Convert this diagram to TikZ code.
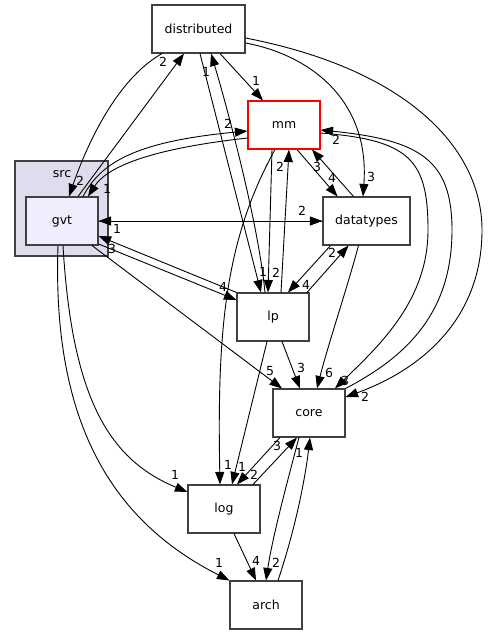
\documentclass[tikz,border=0pt]{standalone}
\usepackage{fontspec}
\setmainfont{DejaVu Sans}
\usepackage{tikz}
\usetikzlibrary{arrows.meta}
\usepackage{xcolor}
\definecolor{boxline}{HTML}{404040}
\definecolor{srcfill}{HTML}{DDDDEE}
\definecolor{gvtfill}{HTML}{EEEEFF}

\begin{document}
\begin{tikzpicture}[x=1pt, y=-1pt,
    font=\fontsize{12.5}{15}\selectfont,
    dirbox/.style={draw=boxline, line width=1.1pt, rectangle, minimum width=72pt, minimum height=48pt, fill=white, inner sep=0pt},
    dep/.style={line width=0.9pt, -{Triangle[length=12.5pt, width=9pt]}},
    lbl/.style={inner sep=0pt}]
      \useasboundingbox (0,0) rectangle (488,635);

      % Cluster src with gvt inside
      \node[draw=boxline, line width=1.1pt, fill=srcfill, minimum width=93pt, minimum height=95pt] (src) at (61.5,208.5) {};
      \node (srcname) at (62,174) {src};
      \node[dirbox, fill=gvtfill] (gvt) at (62,221) {gvt};

      % Directories
      \node[dirbox, minimum width=93pt] (dist) at (198.5,29) {distributed};
      \node[dirbox, draw=red] (mm) at (284,125) {mm};
      \node[dirbox, minimum width=87pt] (dtypes) at (366.5,221) {datatypes};
      \node[dirbox] (lp) at (273,317) {lp};
      \node[dirbox] (core) at (309,413) {core};
      \node[dirbox] (log) at (224,509) {log};
      \node[dirbox] (arch) at (266,605) {arch};

      % distributed <-> gvt
      \draw[dep] ([xshift=-36.5pt]dist.south) .. controls (115,80) and (85,150) .. ([xshift=7pt]gvt.north);
      \draw[dep] ([xshift=16pt]gvt.north) -- ([xshift=-14.5pt]dist.south);
      \node[lbl] (l1) at (80,181) {2};
      \node[lbl] (l2) at (163,62) {2};

      % gvt <-> mm
      \draw[dep] ([xshift=21pt]gvt.north) .. controls (100,165) and (130,142) .. ([yshift=-6pt]mm.west);
      \draw[dep] ([yshift=-13pt]mm.west) .. controls (140,150) and (105,170) .. ([xshift=26pt]gvt.north);
      \node[lbl] (l3) at (228,124) {2};
      \node[lbl] (l4) at (107,189) {1};

      % distributed -> mm, lp, datatypes, core
      \draw[dep] ([xshift=21.5pt]dist.south) -- ([xshift=-21pt]mm.north);
      \node[lbl] (l5) at (256,81) {1};
      \draw[dep] ([xshift=1.5pt]dist.south) -- ([xshift=-12pt]lp.north);
      \node[lbl] (l6) at (263,272) {1};
      \draw[dep] ([xshift=-8pt]lp.north) .. controls (258,220) and (225,100) .. ([xshift=12.5pt]dist.south);
      \node[lbl] (l7) at (206,72) {1};
      \draw[dep] ([yshift=-14pt]dist.east) .. controls (310,55) and (370,100) .. ([xshift=-3.5pt]dtypes.north);
      \node[lbl] (l8) at (371,177) {3};
      \draw[dep] ([yshift=-9pt]dist.east) .. controls (410,70) and (482,150) .. (482,230) .. controls (482,320) and (420,370) .. ([yshift=16pt]core.east);
      \node[lbl] (l9) at (365,397) {2};

      % gvt <-> datatypes, lp
      \draw[dep] (gvt.east) -- (dtypes.west);
      \draw[dep] (dtypes.west) -- (gvt.east);
      \node[lbl] (l10) at (302,211) {2};
      \node[lbl] (l11) at (117,229) {1};
      \draw[dep] (lp.north west) -- ([yshift=-15pt]gvt.east);
      \node[lbl] (l12) at (112,249) {3};
      \draw[dep] ([yshift=-23pt]gvt.east) -- ([yshift=17pt]lp.west);
      \node[lbl] (l13) at (223,287) {4};

      % gvt -> core, log, arch
      \draw[dep] ([xshift=30pt]gvt.south) -- ([xshift=-27pt]core.north);
      \node[lbl] (l14) at (270,371) {5};
      \draw[dep] ([xshift=1pt]gvt.south) .. controls (72,400) and (110,460) .. ([yshift=17pt]log.west);
      \node[lbl] (l15) at (175,475) {1};
      \draw[dep] ([xshift=-4pt]gvt.south) .. controls (52,420) and (110,520) .. (arch.north west);
      \node[lbl] (l16) at (219,563) {1};

      % mm -> log, lp, datatypes, core
      \draw[dep] ([xshift=-9pt]mm.south) .. controls (225,240) and (217,330) .. ([xshift=-4pt]log.north);
      \node[lbl] (l17) at (228,465) {1};
      \draw[dep] ([xshift=-12pt]mm.south) -- ([xshift=-5pt]lp.north);
      \node[lbl] (l18) at (276,273) {2};
      \draw[dep] ([xshift=8pt]lp.north) -- ([xshift=5pt]mm.south);
      \node[lbl] (l19) at (280,167) {2};
      \draw[dep] ([xshift=13pt]mm.south) -- ([xshift=-29pt]dtypes.north);
      \node[lbl] (l20) at (332,178) {4};
      \draw[dep] ([xshift=-13pt]dtypes.north) -- ([xshift=28pt]mm.south);
      \node[lbl] (l21) at (317,167) {3};
      \draw[dep] ([yshift=-8pt]mm.east) .. controls (410,140) and (428,160) .. (428,230) .. controls (428,300) and (380,345) .. ([xshift=26pt]core.north);
      \node[lbl] (l22) at (345,381) {3};
      \draw[dep] (core.north east) .. controls (410,355) and (452,310) .. (452,230) .. controls (452,160) and (420,140) .. ([yshift=-5pt]mm.east);
      \node[lbl] (l23) at (336,140) {2};

      % datatypes <-> lp, datatypes -> core
      \draw[dep] ([xshift=-36pt]dtypes.south) -- ([xshift=15pt]lp.north);
      \node[lbl] (l24) at (306,285) {4};
      \draw[dep] ([xshift=34pt]lp.north) -- ([xshift=-18pt]dtypes.south);
      \node[lbl] (l25) at (332,253) {2};
      \draw[dep] ([xshift=-8pt]dtypes.south) .. controls (348,285) and (328,345) .. ([xshift=8pt]core.north);
      \node[lbl] (l26) at (329,373) {6};

      % lp -> core, log
      \draw[dep] ([xshift=9pt]lp.south) -- ([xshift=-9pt]core.north);
      \node[lbl] (l27) at (301,368) {3};
      \draw[dep] ([xshift=-6pt]lp.south) -- ([xshift=8pt]log.north);
      \node[lbl] (l28) at (242,467) {1};

      % core <-> log, core <-> arch, log -> arch
      \draw[dep] ([xshift=-29pt]core.south) -- ([xshift=13pt]log.north);
      \node[lbl] (l29) at (277,446) {3};
      \draw[dep] ([xshift=29pt]log.north) -- ([xshift=-12pt]core.south);
      \node[lbl] (l30) at (254,475) {2};
      \draw[dep] ([xshift=-10pt]core.south) .. controls (285,490) and (272,540) .. (arch.north);
      \node[lbl] (l31) at (276,563) {2};
      \draw[dep] ([xshift=12pt]arch.north) .. controls (295,530) and (305,480) .. ([xshift=1pt]core.south);
      \node[lbl] (l32) at (299,453) {1};
      \draw[dep] ([xshift=10pt]log.south) -- ([xshift=-10pt]arch.north);
      \node[lbl] (l33) at (256,561) {4};
  \end{tikzpicture}
\end{document}
